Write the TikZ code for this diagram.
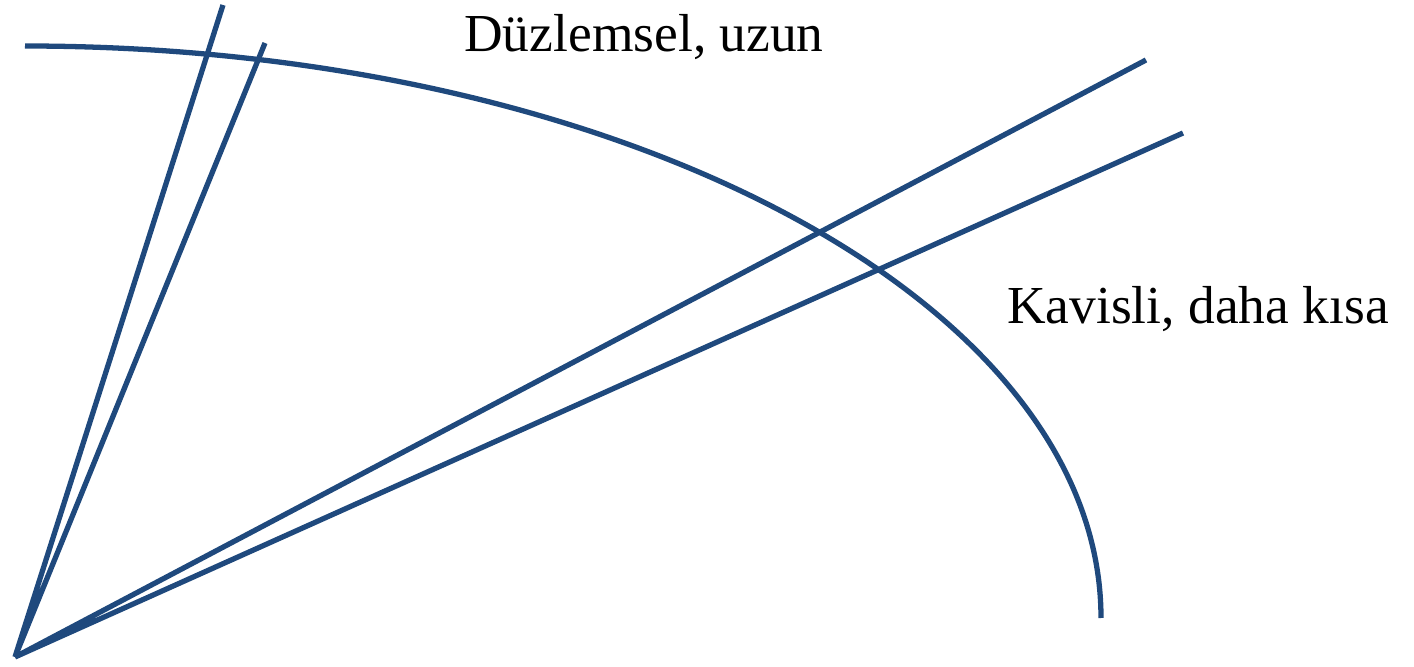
\documentclass[tikz,border=0pt]{standalone}
\usepackage{fontspec}
\setmainfont{Liberation Serif}
\usepackage{xcolor}
\usetikzlibrary{positioning}
\definecolor{rayblue}{RGB}{31,73,125}

\begin{document}
\begin{tikzpicture}[
  x=0.01cm,y=0.01cm,
  every node/.style={font=\fontsize{15.2}{18}\selectfont},
  ray/.style={draw=rayblue,line width=1.5pt},
  label/.style={inner sep=0pt,anchor=center}
]
  \useasboundingbox (0,0) rectangle (1414,666);
  % apex and end points of the rays
  \coordinate (apex) at (15,9);
  \coordinate (r1) at (223,661);
  \coordinate (r2) at (265,623);
  \coordinate (r3) at (1146,606);
  \coordinate (r4) at (1183,533);
  \draw[ray] (r1)--(apex)--(r2);
  \draw[ray] (r3)--(apex)--(r4);
  % curved front
  \coordinate (arcstart) at (25,620);
  \draw[ray] (arcstart) arc[start angle=90,end angle=0,x radius=1076,y radius=572];
  \node[label] (flat) at (644,629) {Düzlemsel, uzun};
  \node[label] (curved) at (1198,357) {Kavisli, daha kısa};
\end{tikzpicture}
\end{document}
